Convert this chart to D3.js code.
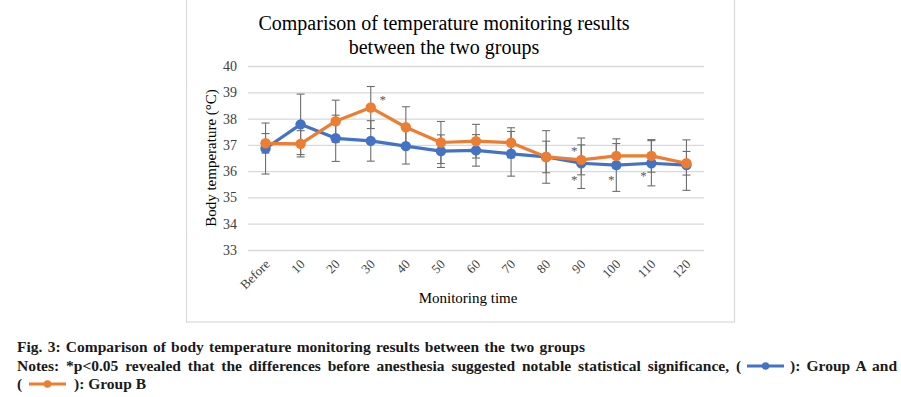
<!DOCTYPE html>
<html><head><meta charset="utf-8">
<script src="https://cdn.jsdelivr.net/npm/d3@7"></script>
<style>body{margin:0;background:#fff}svg{display:block}</style>
</head><body><svg id="c" width="901" height="397"></svg>
<script>
const categories = ["Before","10","20","30","40","50","60","70","80","90","100","110","120"];
const groupA = [36.86,37.78,37.25,37.15,36.95,36.76,36.79,36.66,36.54,36.30,36.23,36.30,36.23];
const groupB = [37.06,37.04,37.90,38.42,37.67,37.09,37.14,37.08,36.54,36.43,36.58,36.58,36.30];
const errA = [0.97,1.15,0.88,0.77,0.68,0.62,0.60,0.85,1.00,0.96,1.00,0.86,0.96];
const errB = [0.37,0.50,0.80,0.80,0.78,0.80,0.64,0.57,0.60,0.57,0.47,0.62,0.45];
const yTicks = [33,34,35,36,37,38,39,40];
const stars = [{cat:"30",v:38.81,dx:12},{cat:"90",v:36.87,dx:-7},{cat:"90",v:35.77,dx:-7},{cat:"100",v:35.77,dx:-5},{cat:"110",v:35.92,dx:-8}];
const titleLines = ["Comparison of temperature monitoring results","between the two groups"];
const colA = "#4472C4", colB = "#ED7D31";

const svg = d3.select("#c");
const serif = "'Liberation Serif','Times New Roman',serif";
// chart frame
svg.append("rect").attr("x",186.5).attr("y",-2).attr("width",548).attr("height",324)
  .attr("fill","#fff").attr("stroke","#d9d9d9").attr("stroke-width",1.2);

const x = d3.scaleBand().domain(categories).range([248,704]).padding(0);
const cx = d => x(d)+x.bandwidth()/2;
const y = d3.scaleLinear().domain([33,40]).range([250,66]);

// gridlines
const yAxis = d3.axisLeft(y).tickValues(yTicks).tickFormat(d3.format("d")).tickSize(-(704-248)).tickPadding(11);
const ga = svg.append("g").attr("transform","translate(248,0)").call(yAxis);
ga.select(".domain").remove();
ga.selectAll(".tick line").attr("stroke","#d9d9d9").attr("stroke-width",1.3);
ga.selectAll(".tick text").attr("font-family",serif).attr("font-size",14).attr("fill","#404040");

// x axis labels
const xAxis = d3.axisBottom(x).tickSize(0).tickPadding(0);
const gx = svg.append("g").attr("transform","translate(0,250)").call(xAxis);
gx.select(".domain").remove();
gx.selectAll(".tick text").attr("font-family",serif).attr("font-size",13).attr("fill","#404040")
  .attr("text-anchor","end").attr("dy",0)
  .attr("transform","translate(5,15) rotate(-45)");

// error bars
function errBars(vals, errs){
  const g = svg.append("g").attr("stroke","#6e6e6e").attr("stroke-width",1.1);
  categories.forEach((c,i)=>{
    const X = cx(c), lo = y(vals[i]-errs[i]), hi = y(vals[i]+errs[i]);
    g.append("line").attr("x1",X).attr("x2",X).attr("y1",lo).attr("y2",hi);
    g.append("line").attr("x1",X-4).attr("x2",X+4).attr("y1",lo).attr("y2",lo);
    g.append("line").attr("x1",X-4).attr("x2",X+4).attr("y1",hi).attr("y2",hi);
  });
}
errBars(groupA, errA);
errBars(groupB, errB);

function series(vals, col){
  const line = d3.line().x((d,i)=>cx(categories[i])).y(d=>y(d));
  svg.append("path").datum(vals).attr("d",line).attr("fill","none").attr("stroke",col)
    .attr("stroke-width",3.2).attr("stroke-linejoin","round");
  svg.append("g").selectAll("circle").data(vals).join("circle")
    .attr("cx",(d,i)=>cx(categories[i])).attr("cy",d=>y(d)).attr("r",5.2).attr("fill",col);
}
series(groupA, colA);
series(groupB, colB);

// significance stars
svg.append("g").selectAll("text").data(stars).join("text")
  .attr("x",d=>cx(d.cat)+d.dx).attr("y",d=>y(d.v)+7).attr("text-anchor","middle")
  .attr("font-family",serif).attr("font-size",13).attr("fill","#595959").text("*");

// title
svg.append("g").selectAll("text").data(titleLines).join("text")
  .attr("x",444).attr("y",(d,i)=>30+i*24).attr("text-anchor","middle")
  .attr("font-family",serif).attr("font-size",20).attr("fill","#000").text(d=>d);

// axis titles
svg.append("text").attr("transform","translate(216,158) rotate(-90)").attr("text-anchor","middle")
  .attr("font-family",serif).attr("font-size",15).attr("fill","#000").text("Body temperature (°C)");
svg.append("text").attr("x",468).attr("y",303).attr("text-anchor","middle")
  .attr("font-family",serif).attr("font-size",15).attr("fill","#000").text("Monitoring time");

// caption
const cap = svg.append("g").attr("font-family",serif).attr("font-weight","bold").attr("font-size",15.5).attr("fill","#1a1a1a");
function fit(t, target){
  const n = t.node().getComputedTextLength();
  const spaces = (t.text().match(/ /g)||[]).length;
  if (spaces) t.attr("word-spacing", ((target - n)/spaces).toFixed(2));
}
const l1 = cap.append("text").attr("x",17).attr("y",352).text("Fig. 3: Comparison of body temperature monitoring results between the two groups");
fit(l1, 568);
const l2a = cap.append("text").attr("x",17).attr("y",371)
  .text("Notes: *p<0.05 revealed that the differences before anesthesia suggested notable statistical significance, (");
fit(l2a, 741-17);
function icon(x0, yc, col){
  svg.append("line").attr("x1",x0).attr("x2",x0+37).attr("y1",yc).attr("y2",yc).attr("stroke",col).attr("stroke-width",3);
  svg.append("circle").attr("cx",x0+18.5).attr("cy",yc).attr("r",3.8).attr("fill",col);
}
icon(747, 366, colA);
const l2b = cap.append("text").attr("x",790).attr("y",371).text("): Group A and");
fit(l2b, 897-790);
cap.append("text").attr("x",17).attr("y",389).text("(");
icon(29, 384, colB);
cap.append("text").attr("x",74).attr("y",389).text("): Group B");
</script></body></html>
